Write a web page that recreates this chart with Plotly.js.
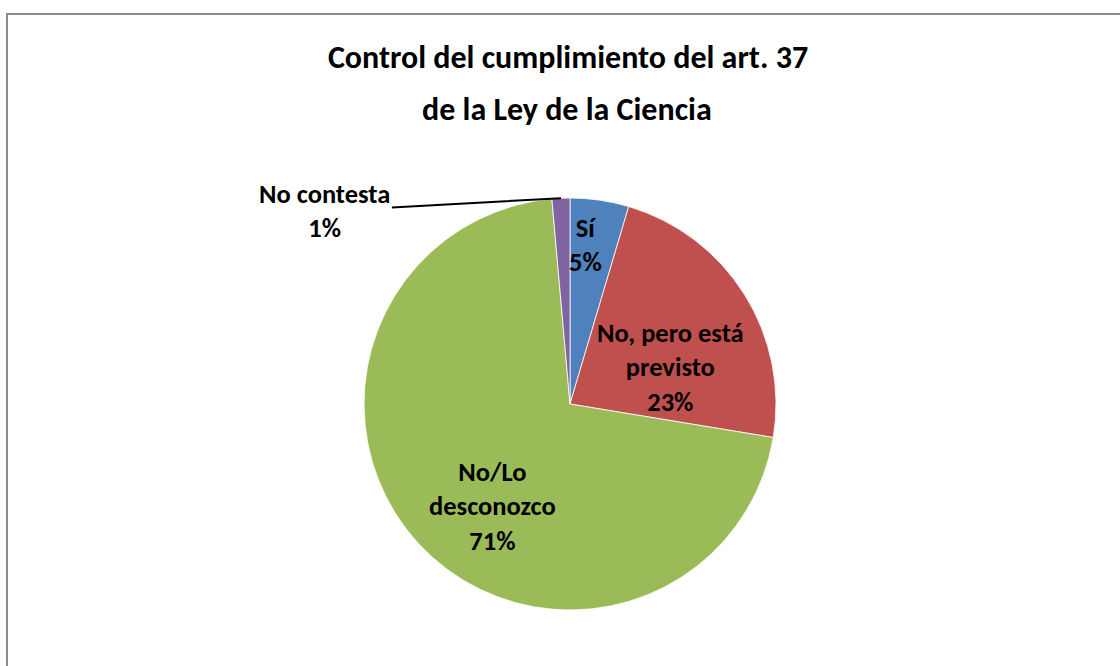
<!DOCTYPE html>
<html>
<head>
<meta charset="utf-8">
<script src="https://cdn.plot.ly/plotly-3.0.1.min.js"></script>
<style>
  html, body { margin: 0; padding: 0; background: #ffffff; }
  #chart { width: 1120px; height: 666px; }
</style>
</head>
<body>
<div id="chart"></div>
<script>
// ---- Data ----
const TITLE_LINES = ["Control del cumplimiento del art. 37", "de la Ley de la Ciencia"];
const categories = ["Sí", "No, pero está previsto", "No/Lo desconozco", "No contesta"];
const labelTexts = ["Sí", "No, pero está<br>previsto", "No/Lo<br>desconozco", "No contesta"];
const values = [4.6, 23.0, 71.0, 1.4];
const colors = ["#4F81BD", "#C0504D", "#9BBB59", "#8064A2"];

// ---- Layout constants ----
const W = 1120, H = 666;
const CX = 570, CY = 404, R = 206;
const FONT = 'Carlito, Calibri, "Liberation Sans", sans-serif';
const LABEL_SIZE = 26.5;
const TITLE_SIZE = 32;

// label placement (radius fraction + pixel nudges)
const labelFrac = [0.78, 0.46, 0.62, 1.0];
const labelShift = [[-8, 0], [20, -14], [16, -16], [0, 0]];

const total = values.reduce((a, b) => a + b, 0);
let cum = 0;
const annotations = [];
values.forEach((v, i) => {
  const mid = (cum + v / 2) / total * 2 * Math.PI;
  cum += v;
  const pct = Math.round(v / total * 100) + "%";
  const d = R * labelFrac[i];
  const px = CX + d * Math.sin(mid);
  const py = CY - d * Math.cos(mid);
  if (i === values.length - 1) {
    annotations.push({
      x: px / W, y: 1 - py / H, xref: "paper", yref: "paper",
      text: labelTexts[i] + "<br>" + pct,
      showarrow: true, arrowhead: 0, arrowwidth: 2, arrowcolor: "#000000",
      ax: -236, ay: 13, standoff: 0, startstandoff: 0,
      font: {family: FONT, size: LABEL_SIZE, color: "#000000", weight: "bold"}
    });
  } else {
    annotations.push({
      x: px / W, y: 1 - py / H, xref: "paper", yref: "paper",
      xanchor: "center", yanchor: "middle",
      xshift: labelShift[i][0], yshift: labelShift[i][1],
      text: labelTexts[i] + "<br>" + pct, showarrow: false,
      font: {family: FONT, size: LABEL_SIZE, color: "#000000", weight: "bold"}
    });
  }
});

annotations.push({
  text: TITLE_LINES[1], showarrow: false,
  x: 567 / W, y: 1 - 110 / H, xref: "paper", yref: "paper",
  xanchor: "center", yanchor: "middle",
  font: {family: FONT, size: TITLE_SIZE, color: "#000000", weight: "bold"}
});

const trace = {
  type: "pie",
  labels: categories,
  values: values,
  sort: false,
  direction: "clockwise",
  rotation: 0,
  textinfo: "none",
  hoverinfo: "label+percent",
  marker: {colors: colors, line: {color: "#ffffff", width: 0.8}},
  domain: {x: [(CX - R) / W, (CX + R) / W], y: [1 - (CY + R) / H, 1 - (CY - R) / H]},
  showlegend: false
};

const layout = {
  width: W, height: H,
  margin: {l: 0, r: 0, t: 0, b: 0},
  paper_bgcolor: "#ffffff",
  title: {
    text: TITLE_LINES[0],
    x: 568 / W, xanchor: "center", xref: "paper",
    y: 1 - 57 / H, yanchor: "middle", yref: "paper",
    font: {family: FONT, size: TITLE_SIZE, color: "#000000", weight: "bold"}
  },
  annotations: annotations,
  shapes: [{
    type: "rect", xref: "paper", yref: "paper",
    x0: 7 / W, y0: 1 - 14 / H, x1: 1.05, y1: -0.05,
    line: {color: "#8c8c8c", width: 2}, fillcolor: "rgba(0,0,0,0)"
  }]
};

Plotly.newPlot("chart", [trace], layout, {displayModeBar: false, staticPlot: true});
</script>
</body>
</html>
